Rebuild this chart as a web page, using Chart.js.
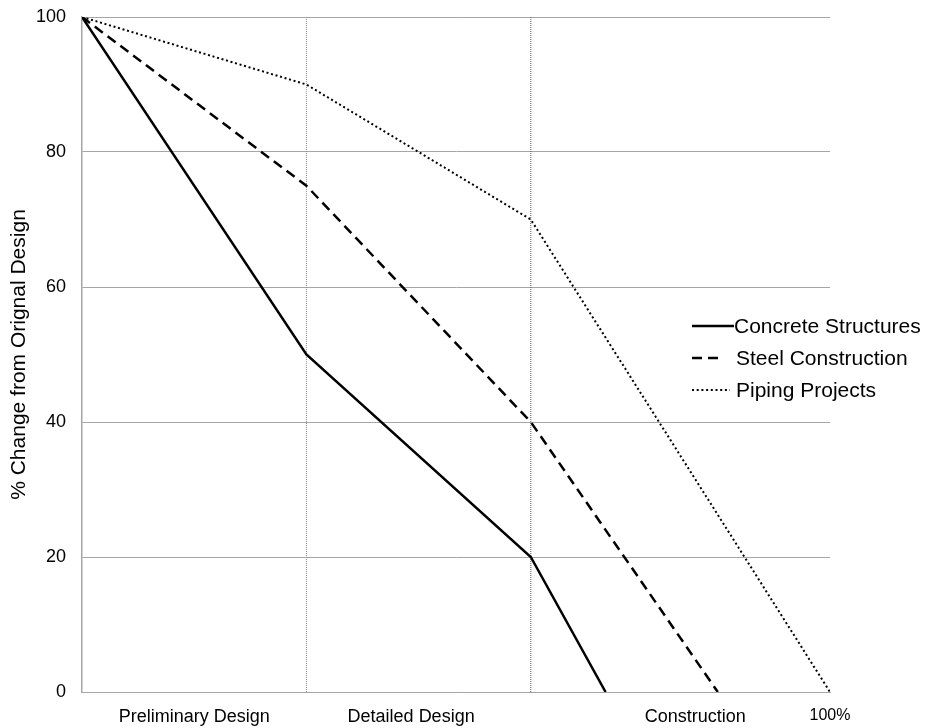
<!DOCTYPE html>
<html>
<head>
<meta charset="utf-8">
<script src="https://cdn.jsdelivr.net/npm/chart.js@4.4.1/dist/chart.umd.min.js"></script>
<style>
  body { margin: 0; background: #fff; }
  .wrap { position: relative; width: 928px; height: 728px; }
  .legend { position: absolute; left: 690px; top: 310px; font-family: "Liberation Sans", Arial, sans-serif; font-size: 21px; color: #000; }
  .legend div { height: 32px; display: flex; align-items: center; white-space: nowrap; }
  .legend svg { width: 46px; height: 10px; }
</style>
</head>
<body>
<div class="wrap">
  <canvas id="chart" width="928" height="728"></canvas>
  <div class="legend">
    <div><svg style="width:44px"><line x1="2" y1="5" x2="44" y2="5" stroke="#000" stroke-width="2.5"/></svg>Concrete Structures</div>
    <div><svg><line x1="2" y1="5" x2="28" y2="5" stroke="#000" stroke-width="2.5" stroke-dasharray="10 6"/></svg>Steel Construction</div>
    <div><svg><line x1="2" y1="5" x2="40" y2="5" stroke="#000" stroke-width="2" stroke-dasharray="2 2.7"/></svg>Piping Projects</div>
  </div>
</div>
<script>
// % of project progress where each phase ends
const phaseX = [0, 30, 60];
const concreteY = [100, 50, 20, 0];
const concreteEnd = 70;
const steelY = [100, 75, 40, 0];
const steelEnd = 85;
const pipingY = [100, 90, 70, 0];
const pipingEnd = 100;

const phaseBoundaries = [30, 60];
const xLabels = ['Preliminary Design', 'Detailed Design', 'Construction', '100%'];
const xLabelAt = [15, 44, 82, 100];
const yTicks = [0, 20, 40, 60, 80, 100];

const toPoints = (ys, end) => ys.map((y, i) => ({ x: i < phaseX.length ? phaseX[i] : end, y }));

const boundarySets = phaseBoundaries.map((x, i) => ({
  data: [{ x, y: 0 }, { x, y: 100 }],
  borderColor: i === 0 ? '#8a8a8a' : '#555',
  borderWidth: 1,
  borderDash: [1, 1],
  pointRadius: 0,
  order: 10
}));

const FONT = '"Liberation Sans", Arial, sans-serif';

new Chart(document.getElementById('chart'), {
  type: 'line',
  data: {
    datasets: [
      {
        label: 'Concrete Structures',
        data: toPoints(concreteY, concreteEnd),
        borderColor: '#000',
        borderWidth: 2.5,
        pointRadius: 0,
        order: 1
      },
      {
        label: 'Steel Construction',
        data: toPoints(steelY, steelEnd),
        borderColor: '#000',
        borderWidth: 2.5,
        borderDash: [10, 6],
        pointRadius: 0,
        order: 2
      },
      {
        label: 'Piping Projects',
        data: toPoints(pipingY, pipingEnd),
        borderColor: '#000',
        borderWidth: 2,
        borderDash: [2, 2.7],
        pointRadius: 0,
        order: 3
      },
      ...boundarySets
    ]
  },
  options: {
    responsive: false,
    animation: false,
    layout: { padding: { top: 17, right: 98, left: 0, bottom: 0 } },
    plugins: {
      legend: { display: false },
      tooltip: { enabled: false }
    },
    scales: {
      x: {
        type: 'linear',
        min: 0,
        max: 100,
        afterBuildTicks: (scale) => {
          scale.ticks = xLabelAt.map(value => ({ value }));
        },
        afterFit: (scale) => {
          scale.height = 36;
          scale.paddingLeft = 0;
          scale.paddingRight = 0;
        },
        grid: { display: false },
        border: { display: true, color: '#a6a6a6', width: 1 },
        ticks: {
          autoSkip: false,
          maxRotation: 0,
          padding: 6,
          color: '#000',
          callback: (value, index) => xLabels[index],
          font: (ctx) => ({ family: FONT, size: ctx.index === xLabels.length - 1 ? 16 : 18 })
        }
      },
      y: {
        min: 0,
        max: 100,
        afterBuildTicks: (scale) => {
          scale.ticks = yTicks.map(value => ({ value }));
        },
        afterFit: (scale) => {
          scale.width = 82;
          scale.paddingTop = 0;
          scale.paddingBottom = 0;
        },
        grid: { color: '#a6a6a6', lineWidth: 1, drawTicks: false },
        border: { display: true, color: '#a6a6a6', width: 1.5 },
        ticks: {
          padding: 16,
          color: '#000',
          font: { family: FONT, size: 18 }
        },
        title: {
          display: true,
          text: '% Change from Orignal Design',
          color: '#000',
          padding: { top: 7, bottom: 0 },
          font: { family: FONT, size: 21 }
        }
      }
    }
  }
});
</script>
</body>
</html>
